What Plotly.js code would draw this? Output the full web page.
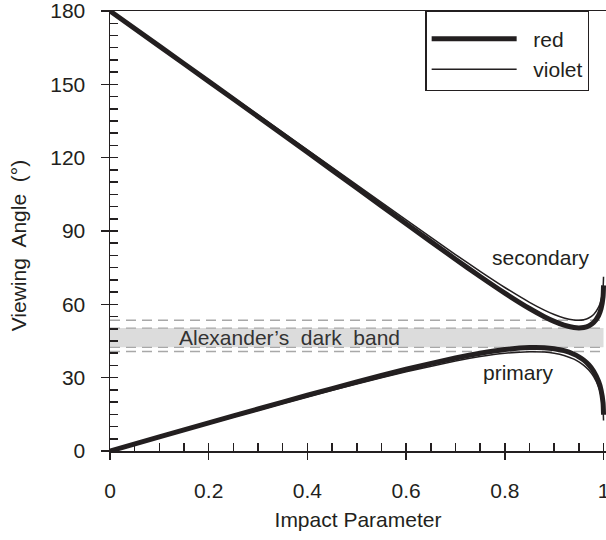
<!DOCTYPE html>
<html>
<head>
<meta charset="utf-8">
<script src="https://cdn.plot.ly/plotly-3.0.1.min.js"></script>
<style>html,body{margin:0;padding:0;background:#fff;}#chart{width:606px;height:540px;}</style>
</head>
<body>
<div id="chart"></div>
<script>
// Impact parameter samples
const impactParameter = [0, 0.1, 0.2, 0.3, 0.4, 0.5, 0.6, 0.7, 0.75, 0.8, 0.85, 0.88, 0.9, 0.92, 0.94, 0.95, 0.96, 0.97, 0.98, 0.99, 0.995, 0.999, 1.0];
// Viewing angle (deg)
const redPrimary = [0, 5.76, 11.49, 17.19, 22.80, 28.26, 33.44, 38.07, 40.01, 41.52, 42.33, 42.27, 41.87, 41.05, 39.61, 38.55, 37.16, 35.28, 32.62, 28.44, 24.98, 19.70, 14.82];
const redSecondary = [180, 165.63, 151.22, 136.76, 122.22, 107.61, 92.98, 78.47, 71.40, 64.59, 58.29, 54.96, 53.04, 51.50, 50.53, 50.36, 50.53, 51.16, 52.55, 55.44, 58.26, 63.02, 67.78];
const violetPrimary = [0, 5.60, 11.18, 16.71, 22.16, 27.43, 32.40, 36.80, 38.62, 39.98, 40.64, 40.47, 40.00, 39.10, 37.58, 36.47, 35.03, 33.11, 30.40, 26.18, 22.69, 17.37, 12.50];
const violetSecondary = [180, 165.86, 151.69, 137.47, 123.19, 108.85, 94.52, 80.37, 73.49, 66.89, 60.83, 57.65, 55.85, 54.42, 53.58, 53.48, 53.71, 54.41, 55.87, 58.84, 61.70, 66.51, 71.25];
// Dark band limits (deg)
const bandLow = 42.4, bandHigh = 50.3;
const violetPrimaryMax = 40.7, violetSecondaryMin = 53.5;
const seriesNames = ["red", "violet"];
const xTickVals = [0, 0.2, 0.4, 0.6, 0.8, 1];
const xTickText = ["0", "0.2", "0.4", "0.6", "0.8", "1"];
const yTickVals = [0, 30, 60, 90, 120, 150, 180];
const labels = {band: "Alexander\u2019s\u00a0 dark\u00a0 band", secondary: "secondary", primary: "primary"};

const ink = "#231f20";
const FONT = "Liberation Sans, Arial, Helvetica, sans-serif";
const fs = 21;
const NB = "\u00a0", ZW = "\u200b";

function line(y, name, width, show) {
  return {
    x: impactParameter, y: y, type: "scatter", mode: "lines",
    name: ZW + NB + NB + name, legendgroup: name, showlegend: show,
    line: {color: ink, width: width, shape: "spline", smoothing: 0.6},
    hoverinfo: "skip"
  };
}

const traces = [
  line(redPrimary, seriesNames[0], 5, true),
  line(redSecondary, seriesNames[0], 5, false),
  line(violetPrimary, seriesNames[1], 1.5, true),
  line(violetSecondary, seriesNames[1], 1.5, false),
  {x: [], y: [], xaxis: "x2", yaxis: "y2", type: "scatter", mode: "lines", showlegend: false, hoverinfo: "skip"}
];

const dash = {color: "#a8a8a8", width: 1.3, dash: "10px,6px"};
const shapes = [
  {type: "rect", xref: "x", yref: "y", x0: 0, x1: 1, y0: bandLow, y1: bandHigh, fillcolor: "#dcdcdc", line: {width: 0}, layer: "below"},
  {type: "line", xref: "x", yref: "y", x0: 0, x1: 1, y0: bandLow, y1: bandLow, line: dash, layer: "below"},
  {type: "line", xref: "x", yref: "y", x0: 0, x1: 1, y0: bandHigh, y1: bandHigh, line: dash, layer: "below"},
  {type: "line", xref: "x", yref: "y", x0: 0, x1: 1, y0: violetPrimaryMax, y1: violetPrimaryMax, line: dash, layer: "below"},
  {type: "line", xref: "x", yref: "y", x0: 0, x1: 1, y0: violetSecondaryMin, y1: violetSecondaryMin, line: dash, layer: "below"}
];

const annotations = [
  {text: labels.band, x: 0.363, y: (bandLow + bandHigh) / 2, xref: "x", yref: "y", showarrow: false, font: {family: FONT, size: fs, color: "#333"}},
  {text: labels.secondary, x: 0.872, y: 79, xref: "x", yref: "y", showarrow: false, font: {family: FONT, size: fs, color: ink}},
  {text: labels.primary, x: 0.828, y: 32.3, xref: "x", yref: "y", showarrow: false, font: {family: FONT, size: fs, color: ink}}
];

const axisCommon = {showgrid: false, zeroline: false, linecolor: ink, linewidth: 1.5, tickcolor: ink, tickwidth: 1.5, ticklabeloverflow: "allow"};

const layout = {
  width: 606, height: 540,
  margin: {l: 110, r: 0, t: 11, b: 89, pad: 0, autoexpand: false},
  paper_bgcolor: "#fff", plot_bgcolor: "#fff",
  font: {family: FONT, size: fs, color: ink},
  showlegend: true,
  legend: {
    x: 0.636, y: 1, xanchor: "left", yanchor: "top",
    bordercolor: ink, borderwidth: 1.2, bgcolor: "#fff",
    title: {text: " ", font: {size: 5}},
    font: {family: FONT, size: fs, color: ink},
    itemwidth: 85, tracegroupgap: 2, traceorder: "normal"
  },
  xaxis: Object.assign({}, axisCommon, {
    range: [0, 1.005], showline: true, mirror: true,
    tickmode: "array", tickvals: xTickVals, ticktext: xTickText,
    ticks: "outside", ticklen: 7, ticklabelstandoff: 13,
    title: {text: "Impact Parameter", font: {family: FONT, size: fs, color: ink}, standoff: 11}
  }),
  yaxis: Object.assign({}, axisCommon, {
    range: [0, 180.01], showline: true,
    tickmode: "array", tickvals: yTickVals,
    ticks: "outside", ticklen: 8, ticklabelstandoff: 11,
    title: {text: "Viewing" + NB + " Angle" + NB + " (\u00b0)" + NB.repeat(5) + ZW, font: {family: FONT, size: fs, color: ink}, standoff: 18}
  }),
  xaxis2: Object.assign({}, axisCommon, {
    range: [0, 1.005], overlaying: "x", anchor: "y2", side: "bottom",
    showline: false, dtick: 0.05, tick0: 0, ticks: "inside", ticklen: 8, showticklabels: false
  }),
  yaxis2: Object.assign({}, axisCommon, {
    range: [0, 180.01], overlaying: "y", anchor: "x2", side: "left",
    showline: false, dtick: 5, tick0: 0, ticks: "inside", ticklen: 8, showticklabels: false
  }),
  shapes: shapes,
  annotations: annotations
};

Plotly.newPlot("chart", traces, layout, {staticPlot: true, displayModeBar: false});
</script>
</body>
</html>
